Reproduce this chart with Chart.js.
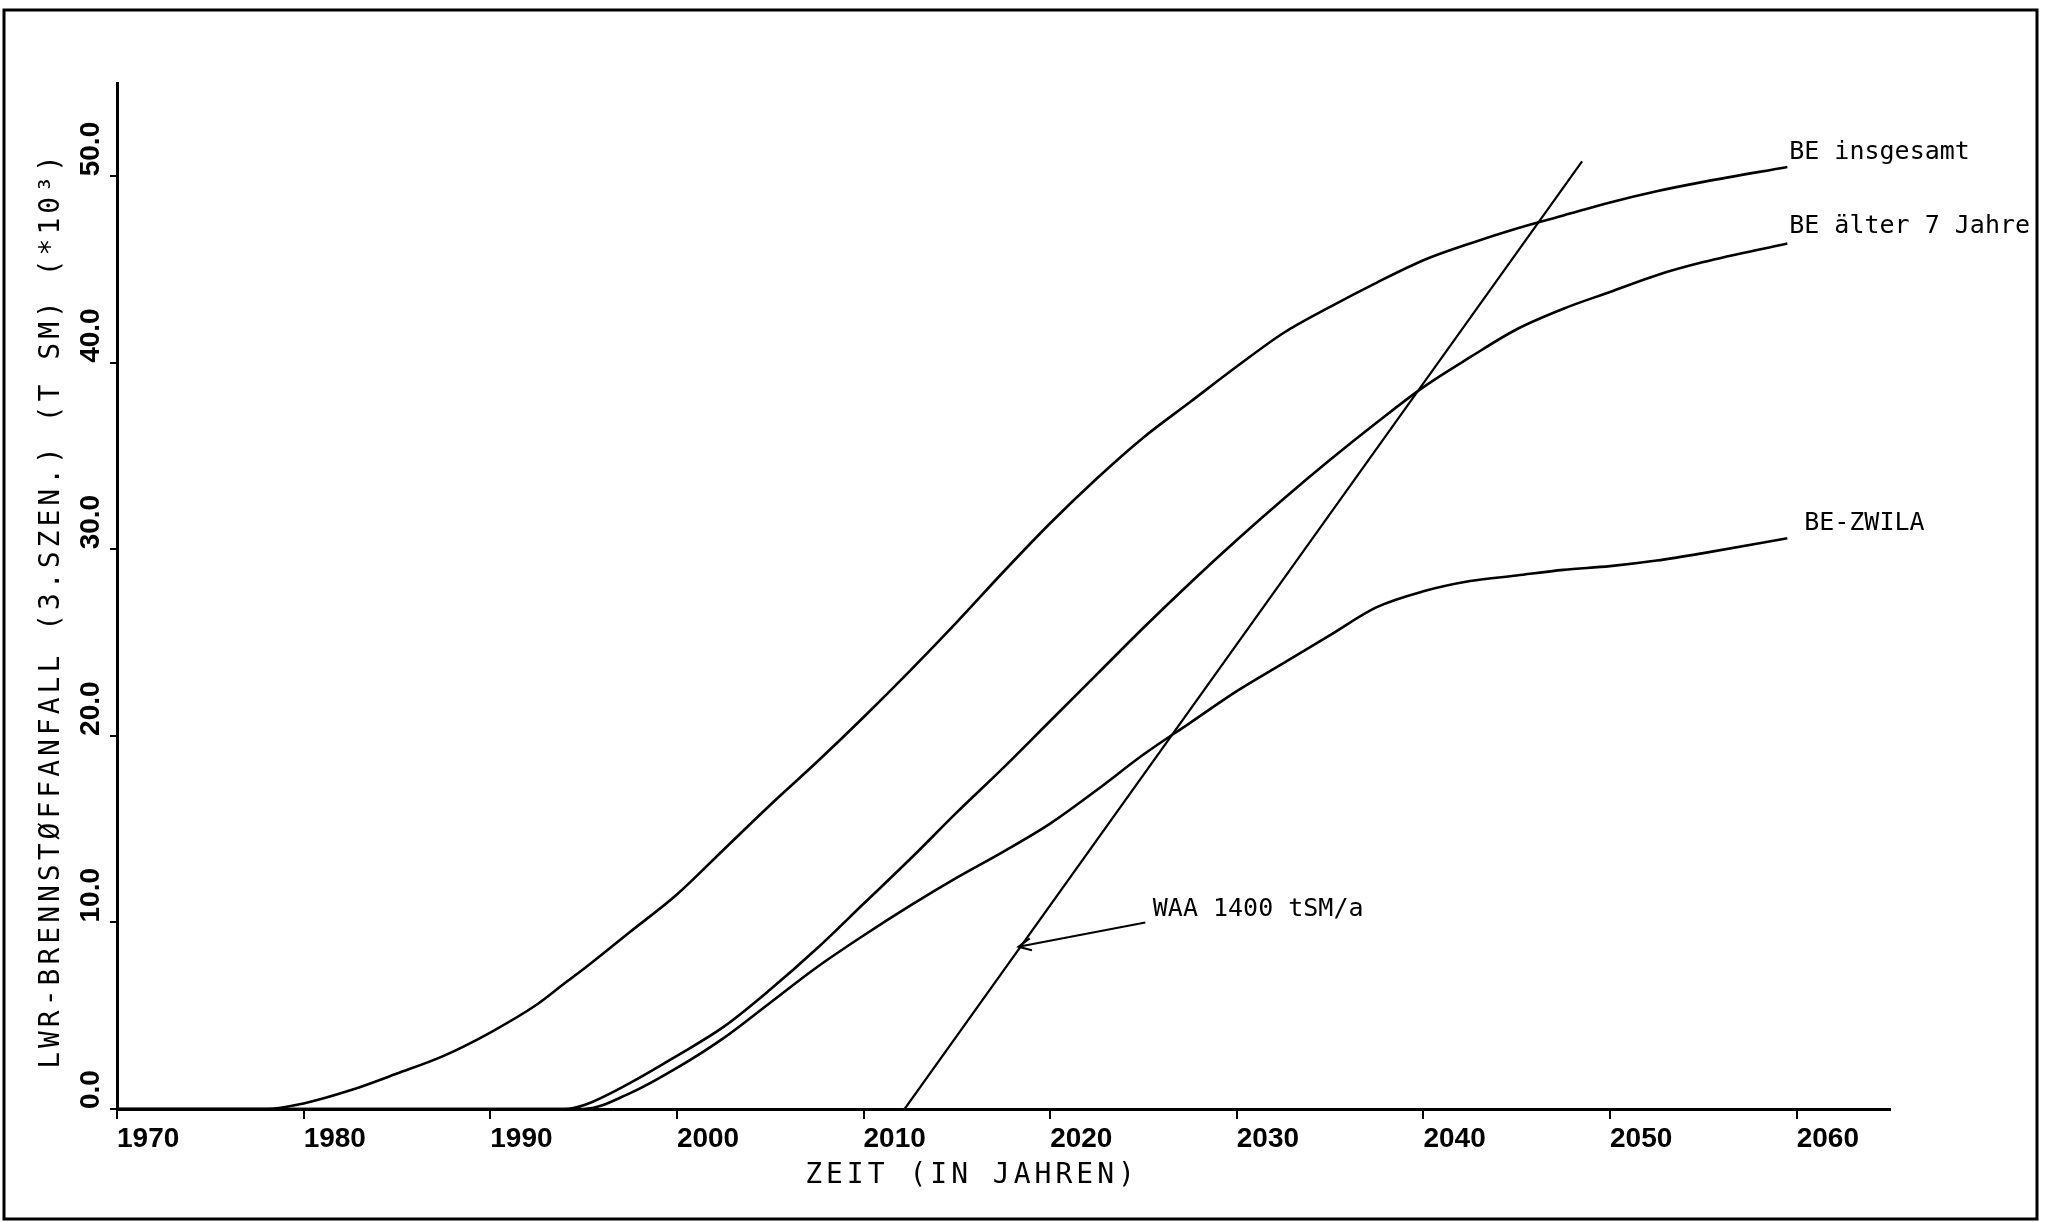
<!DOCTYPE html>
<html>
<head>
<meta charset="utf-8">
<script src="https://cdn.jsdelivr.net/npm/chart.js@4.4.0/dist/chart.umd.min.js"></script>
<style>
  html, body { margin: 0; padding: 0; background: #fff; }
  canvas { display: block; }
</style>
</head>
<body>
<canvas id="chart" width="2054" height="1222"></canvas>
<script>
// Years (x) shared by the three fuel curves
const years = [1970, 1978, 1980, 1982.5, 1985, 1987.5, 1990, 1992.5, 1994, 1995,
    1997.5, 2000, 2002.5, 2005, 2007.5, 2010, 2012.5, 2015, 2017.5, 2020,
    2022.5, 2025, 2027.5, 2030, 2032.5, 2035, 2037.5, 2040, 2042.5, 2045,
    2047.5, 2050, 2052.5, 2055, 2059.5];

// Values in 10^3 t SM
const beInsgesamt = [0, 0, 0.3, 1.0, 1.9, 2.85, 4.1, 5.6, 6.75, 7.5,
    9.5, 11.5, 13.9, 16.3, 18.6, 21.0, 23.5, 26.1, 28.8, 31.4,
    33.8, 36.0, 37.9, 39.8, 41.6, 43.0, 44.3, 45.5, 46.4, 47.2,
    47.9, 48.6, 49.2, 49.7, 50.5];
const beAelter7 = [0, 0, 0, 0, 0, 0, 0, 0, 0, 0.2,
    1.4, 2.85, 4.4, 6.4, 8.6, 11.0, 13.4, 15.9, 18.3, 20.8,
    23.3, 25.8, 28.2, 30.5, 32.7, 34.8, 36.8, 38.7, 40.3, 41.8,
    42.9, 43.8, 44.7, 45.4, 46.4];
const beZwila = [0, 0, 0, 0, 0, 0, 0, 0, 0, 0,
    0.85, 2.2, 3.8, 5.7, 7.6, 9.3, 10.9, 12.4, 13.8, 15.3,
    17.1, 19.0, 20.7, 22.4, 23.9, 25.4, 26.9, 27.75, 28.3, 28.6,
    28.9, 29.1, 29.4, 29.8, 30.6];

// WAA 1400 tSM/a straight line
const waaYears = [2012.2, 2048.5];
const waaValues = [0, 50.8];

// Tick labels
const yTickValues = [0, 10, 20, 30, 40, 50];

const seriesNames = ['BE insgesamt', 'BE älter 7 Jahre', 'BE-ZWILA'];
const waaName = 'WAA 1400 tSM/a';
const xTitle = 'ZEIT (IN JAHREN)';
const yTitle = 'LWR-BRENNSTØFFANFALL (3.SZEN.) (T SM) (*10³)';

// Build {x, y} points from the arrays
function toPoints(xs, ys) {
    return xs.map((x, i) => ({ x: x, y: ys[i] }));
}

// Text placement (data coordinates) for the curve labels and the arrow
const labelSpots = [
    { text: seriesNames[0], x: 2059.6, y: 51.3 },
    { text: seriesNames[1], x: 2059.6, y: 47.3 },
    { text: seriesNames[2], x: 2060.4, y: 31.4 }
];
const waaLabel = { x: 2025.5, y: 10.7, fromX: 2025.1, fromY: 10.0, tipX: 2018.3, tipY: 8.7 };

const textPlugin = {
    id: 'plotText',
    afterDraw(chart) {
        const { ctx, chartArea } = chart;
        const xs = chart.scales.x;
        const ys = chart.scales.y;
        ctx.save();

        // outer frame
        ctx.strokeStyle = '#000';
        ctx.lineWidth = 3;
        ctx.strokeRect(4, 10, 2033, 1209);

        ctx.fillStyle = '#000';

        // y tick labels, rotated, starting at the tick
        ctx.font = 'bold 28px "Liberation Sans"';
        ctx.textAlign = 'left';
        ctx.textBaseline = 'middle';
        yTickValues.forEach(v => {
            ctx.save();
            ctx.translate(chartArea.left - 26, ys.getPixelForValue(v));
            ctx.rotate(-Math.PI / 2);
            ctx.fillText(v.toFixed(1), 0, 0);
            ctx.restore();
        });

        // axis titles
        ctx.font = '28px "DejaVu Sans Mono"';
        ctx.letterSpacing = '4px';
        ctx.textAlign = 'center';
        ctx.save();
        ctx.translate(chartArea.left - 65, (chartArea.top + chartArea.bottom) / 2 + 14);
        ctx.rotate(-Math.PI / 2);
        ctx.fillText(yTitle, 0, 0);
        ctx.restore();
        ctx.fillText(xTitle, 972, 1176);
        ctx.letterSpacing = '0px';

        // curve labels
        ctx.font = '25px "DejaVu Sans Mono"';
        ctx.textAlign = 'left';
        labelSpots.forEach(l => {
            ctx.fillText(l.text, xs.getPixelForValue(l.x), ys.getPixelForValue(l.y));
        });
        ctx.fillText(waaName, xs.getPixelForValue(waaLabel.x), ys.getPixelForValue(waaLabel.y));

        // arrow to the WAA line
        const x0 = xs.getPixelForValue(waaLabel.fromX), y0 = ys.getPixelForValue(waaLabel.fromY);
        const x1 = xs.getPixelForValue(waaLabel.tipX), y1 = ys.getPixelForValue(waaLabel.tipY);
        const ang = Math.atan2(y0 - y1, x0 - x1);
        ctx.lineWidth = 2;
        ctx.beginPath();
        ctx.moveTo(x0, y0);
        ctx.lineTo(x1, y1);
        ctx.moveTo(x1 + 14 * Math.cos(ang - 0.45), y1 + 14 * Math.sin(ang - 0.45));
        ctx.lineTo(x1, y1);
        ctx.lineTo(x1 + 14 * Math.cos(ang + 0.45), y1 + 14 * Math.sin(ang + 0.45));
        ctx.stroke();

        ctx.restore();
    }
};

const lineStyle = {
    borderColor: '#000',
    borderWidth: 2.6,
    pointRadius: 0,
    fill: false,
    cubicInterpolationMode: 'monotone'
};

new Chart(document.getElementById('chart'), {
    type: 'line',
    data: {
        datasets: [
            Object.assign({ label: seriesNames[0], data: toPoints(years, beInsgesamt) }, lineStyle),
            Object.assign({ label: seriesNames[1], data: toPoints(years, beAelter7) }, lineStyle),
            Object.assign({ label: seriesNames[2], data: toPoints(years, beZwila) }, lineStyle),
            { label: waaName, data: toPoints(waaYears, waaValues), borderColor: '#000', borderWidth: 2.2, pointRadius: 0, fill: false }
        ]
    },
    options: {
        responsive: false,
        animation: false,
        layout: { padding: { top: 83, right: 164, left: 0, bottom: 0 } },
        plugins: {
            legend: { display: false },
            tooltip: { enabled: false }
        },
        scales: {
            x: {
                type: 'linear',
                min: 1970,
                max: 2065,
                afterFit: scale => { scale.height = 113; },
                border: { display: true, color: '#000', width: 3 },
                grid: { drawOnChartArea: false, drawTicks: true, tickLength: 10, color: '#000', lineWidth: 2 },
                ticks: {
                    stepSize: 10,
                    includeBounds: false,
                    autoSkip: false,
                    maxRotation: 0,
                    align: 'start',
                    padding: 3,
                    color: '#000',
                    font: { family: '"Liberation Sans"', size: 28, weight: 'bold' },
                    callback: v => String(v)
                }
            },
            y: {
                type: 'linear',
                min: 0,
                max: 55,
                afterFit: scale => { scale.width = 117; },
                border: { display: true, color: '#000', width: 3 },
                grid: { drawOnChartArea: false, drawTicks: true, tickLength: 7, color: '#000', lineWidth: 2 },
                ticks: { stepSize: 10, includeBounds: false, display: false }
            }
        }
    },
    plugins: [textPlugin]
});
</script>
</body>
</html>
